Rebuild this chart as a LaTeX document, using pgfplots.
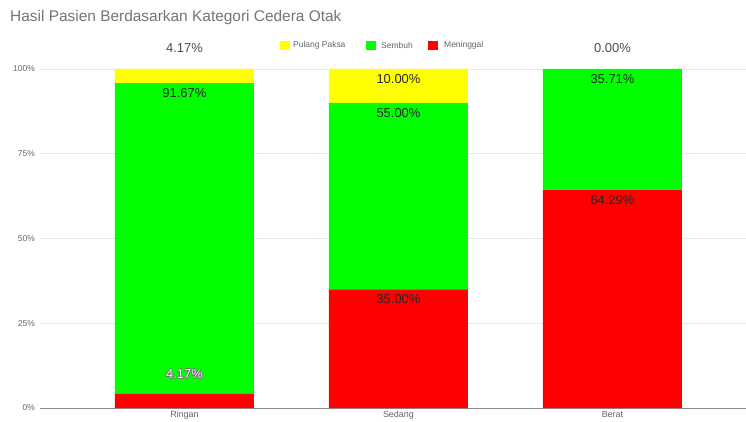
\documentclass[border=0pt]{standalone}
\usepackage{pgfplots}
\pgfplotsset{compat=1.18}
\usepackage{fontspec}
\setmainfont{Liberation Sans}
\definecolor{cy}{HTML}{FFFF00}
\definecolor{cg}{HTML}{00FF00}
\definecolor{cr}{HTML}{FF0000}
\definecolor{titlegray}{HTML}{757575}
\definecolor{tickgray}{HTML}{666666}
\definecolor{lblgray}{HTML}{4D4D4D}
\definecolor{gridgray}{HTML}{E6E6E6}
\begin{document}
\begin{tikzpicture}[x=1bp,y=1bp]
\path[use as bounding box, fill=white] (0,0) rectangle (746,421);
\node[anchor=west, text=titlegray, font=\fontsize{15.5}{17}\selectfont, inner sep=0pt] at (10,403) {Hasil Pasien Berdasarkan Kategori Cedera Otak};
% legend
\fill[cy] (280,371) rectangle (290,380);
\node[anchor=west, inner sep=0pt, text=tickgray, font=\fontsize{8.5}{10}\selectfont] at (293,375.5) {Pulang Paksa};
\fill[cg] (366,371) rectangle (376,380);
\node[anchor=west, inner sep=0pt, text=tickgray, font=\fontsize{8.5}{10}\selectfont] at (381,375.5) {Sembuh};
\fill[cr] (428,371) rectangle (438,380);
\node[anchor=west, inner sep=0pt, text=tickgray, font=\fontsize{8.5}{10}\selectfont] at (444,375.5) {Meninggal};
\begin{axis}[
  at={(40bp,13bp)}, anchor=south west,
  scale only axis, width=706bp, height=339bp,
  ybar stacked, bar width=139bp,
  xmin=-0.675, xmax=2.624, ymin=0, ymax=100,
  axis x line*=bottom, axis y line*=left,
  x axis line style={draw=black!45, line width=0.8bp, -},
  y axis line style={draw=none},
  ymajorgrids, grid style={draw=gridgray, line width=0.8bp},
  ytick={0,25,50,75,100},
  yticklabels={0\%,25\%,50\%,75\%,100\%},
  yticklabel style={font=\fontsize{8.5}{10}\selectfont, text=tickgray, anchor=east, inner sep=0pt, xshift=-5bp},
  major y tick style={draw=none},
  xtick={0,1,2},
  xticklabels={Ringan,Sedang,Berat},
  xticklabel style={font=\fontsize{9}{10}\selectfont, text=tickgray, inner sep=0pt, yshift=-3bp},
  major x tick style={draw=none},
  clip=false,
]
\addplot[fill=cr, draw=none] coordinates {(0,4.17) (1,35.00) (2,64.29)};
\addplot[fill=cg, draw=none] coordinates {(0,91.66) (1,55.00) (2,35.71)};
\addplot[fill=cy, draw=none] coordinates {(0,4.17) (1,10.00) (2,0.00)};
\coordinate (a1) at (axis cs:0,95.83);
\coordinate (b1) at (axis cs:1,100);
\coordinate (b2) at (axis cs:1,90);
\coordinate (b3) at (axis cs:1,35);
\coordinate (c1) at (axis cs:2,100);
\coordinate (c2) at (axis cs:2,64.29);
\coordinate (a3) at (axis cs:0,10.0);
\coordinate (t1) at (axis cs:0,106.2);
\coordinate (t2) at (axis cs:2,106.2);
\end{axis}
\tikzset{lbl/.style={font=\fontsize{13}{15}\selectfont, text=black!85, inner sep=0pt, yshift=-10bp}}
\node[lbl] at (a1) {91.67\%};
\node[lbl] at (b1) {10.00\%};
\node[lbl] at (b2) {55.00\%};
\node[lbl] at (b3) {35.00\%};
\node[lbl] at (c1) {35.71\%};
\node[lbl] at (c2) {64.29\%};
% haloed label
\foreach \dx/\dy in {-0.7/0,0.7/0,0/-0.7,0/0.7,-0.5/-0.5,0.5/0.5,-0.5/0.5,0.5/-0.5}{
  \node[font=\fontsize{13}{15}\selectfont, text=black!55, inner sep=0pt, xshift=\dx bp, yshift=\dy bp] at (a3) {4.17\%};
}
\node[font=\fontsize{13}{15}\selectfont, text=black!8, inner sep=0pt] at (a3) {4.17\%};
\node[font=\fontsize{13}{15}\selectfont, text=lblgray, inner sep=0pt] at (t1) {4.17\%};
\node[font=\fontsize{13}{15}\selectfont, text=lblgray, inner sep=0pt] at (t2) {0.00\%};
\end{tikzpicture}
\end{document}
